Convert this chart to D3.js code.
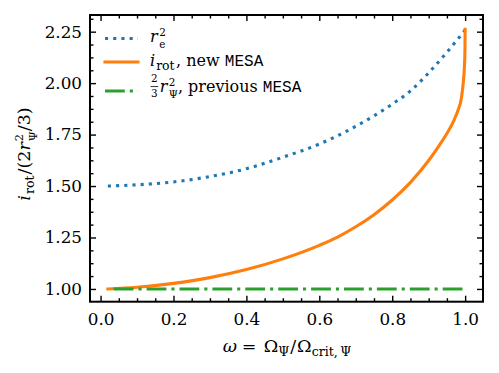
<!DOCTYPE html>
<html><head><meta charset="utf-8">
<script src="https://cdn.jsdelivr.net/npm/d3@7"></script>
<style>body{margin:0;background:#fff}svg{display:block}text{white-space:pre}</style>
</head><body>
<svg id="c" width="499" height="373"></svg>
<script>
// ---- data ----
const omegaRe = [0.02, 0.1, 0.2, 0.3, 0.4, 0.5, 0.6, 0.7, 0.8, 0.85, 0.9, 0.95, 0.98, 1.0];
const reSq    = [1.500, 1.506, 1.520, 1.546, 1.584, 1.640, 1.704, 1.790, 1.898, 1.962, 2.050, 2.150, 2.214, 2.258];
const omegaIrot = [0.02, 0.1, 0.2, 0.3, 0.4, 0.5, 0.6, 0.65, 0.7, 0.75, 0.8, 0.85, 0.9, 0.93, 0.95, 0.97, 0.98, 0.99, 0.995, 0.998, 0.9995, 1.0];
const iRot      = [1.000, 1.008, 1.027, 1.055, 1.094, 1.146, 1.212, 1.252, 1.302, 1.361, 1.432, 1.518, 1.624, 1.700, 1.755, 1.822, 1.866, 1.930, 2.005, 2.080, 2.160, 2.262];
const omegaPrev = [0.036, 1.0];
const prevVal   = [1.0, 1.0];
const xTicks = [0.0, 0.2, 0.4, 0.6, 0.8, 1.0];
const yTicks = [1.00, 1.25, 1.50, 1.75, 2.00, 2.25];
const colors = ["#1f77b4", "#ff7f0e", "#2ca02c"];

const serif = "'DejaVu Serif', 'Liberation Serif', serif";
const mono = "'Liberation Mono', 'DejaVu Sans Mono', monospace";
const NB = "\u00a0";

const svg = d3.select("#c");
svg.append("rect").attr("width", 499).attr("height", 373).attr("fill", "#fff");
const L = 90, R = 483, T = 15, B = 301.7;
const x = d3.scaleLinear().domain([-0.029, 1.049]).range([L, R]);
const y = d3.scaleLinear().domain([0.938, 2.331]).range([B, T]);

const line = d3.line().x(d => x(d[0])).y(d => y(d[1])).curve(d3.curveMonotoneX);
const plot = svg.append("g");
plot.append("path").datum(d3.zip(omegaRe, reSq)).attr("d", line)
  .attr("fill", "none").attr("stroke", colors[0]).attr("stroke-width", 3.1)
  .attr("stroke-dasharray", "3.1,5.1");
plot.append("path").datum(d3.zip(omegaIrot, iRot)).attr("d", line)
  .attr("fill", "none").attr("stroke", colors[1]).attr("stroke-width", 3.1)
  .attr("stroke-linecap", "square").attr("stroke-linejoin", "round");
plot.append("path").datum(d3.zip(omegaPrev, prevVal)).attr("d", line)
  .attr("fill", "none").attr("stroke", colors[2]).attr("stroke-width", 3.1)
  .attr("stroke-dasharray", "19.8,5,3.1,5");

// ---- axes (ticks inward on all sides) ----
function minor(ticks, step) {
  const out = [];
  for (let i = 0; i < ticks.length - 1; i++) for (let k = 1; k < 4; k++) out.push(ticks[i] + k * step / 4);
  return out;
}
const xMinor = minor([-0.2].concat(xTicks, [1.2]), 0.2).filter(v => v > -0.029 && v < 1.049);
const yMinor = minor([0.75].concat(yTicks, [2.5]), 0.25).filter(v => v > 0.938 && v < 2.331);

function styleAxis(g) {
  g.attr("font-family", serif);
  g.select(".domain").remove();
  g.selectAll(".tick line").attr("stroke", "#000").attr("stroke-width", 1.4);
}
const fs = 16.8;
const gx = svg.append("g").attr("transform", `translate(0,${B})`)
  .call(d3.axisBottom(x).tickValues(xTicks).tickFormat(d3.format(".1f")).tickSize(-6).tickPadding(11));
styleAxis(gx);
gx.selectAll("text").attr("font-family", serif).attr("font-size", fs).attr("fill", "#000");
const gxm = svg.append("g").attr("transform", `translate(0,${B})`)
  .call(d3.axisBottom(x).tickValues(xMinor).tickFormat("").tickSize(-3.5));
styleAxis(gxm);
const gxt = svg.append("g").attr("transform", `translate(0,${T})`)
  .call(d3.axisTop(x).tickValues(xTicks).tickFormat("").tickSize(-6));
styleAxis(gxt);
const gxtm = svg.append("g").attr("transform", `translate(0,${T})`)
  .call(d3.axisTop(x).tickValues(xMinor).tickFormat("").tickSize(-3.5));
styleAxis(gxtm);

const gy = svg.append("g").attr("transform", `translate(${L},0)`)
  .call(d3.axisLeft(y).tickValues(yTicks).tickFormat(d3.format(".2f")).tickSize(-6).tickPadding(8));
styleAxis(gy);
gy.selectAll("text").attr("font-family", serif).attr("font-size", fs).attr("fill", "#000");
const gym = svg.append("g").attr("transform", `translate(${L},0)`)
  .call(d3.axisLeft(y).tickValues(yMinor).tickFormat("").tickSize(-3.5));
styleAxis(gym);
const gyr = svg.append("g").attr("transform", `translate(${R},0)`)
  .call(d3.axisRight(y).tickValues(yTicks).tickFormat("").tickSize(-6));
styleAxis(gyr);
const gyrm = svg.append("g").attr("transform", `translate(${R},0)`)
  .call(d3.axisRight(y).tickValues(yMinor).tickFormat("").tickSize(-3.5));
styleAxis(gyrm);

svg.append("rect").attr("x", L).attr("y", T).attr("width", R - L).attr("height", B - T)
  .attr("fill", "none").attr("stroke", "#000").attr("stroke-width", 2);

// ---- math text helper ----
function mathText(parent, pieces, size) {
  const g = parent.append("g");
  let cx = 0;
  pieces.forEach(p => {
    if (p.at !== undefined) cx = p.at;
    const s = size * (p.scale || 1);
    if (p.frac) {
      const t = g.append("text").attr("font-family", serif).attr("font-size", s).attr("fill", "#000");
      const a = t.append("tspan").attr("y", -0.62 * size).text(p.frac[0]);
      const b = t.append("tspan").attr("y", 0.32 * size).text(p.frac[1]);
      const wa = a.node().getComputedTextLength(), wb = b.node().getComputedTextLength();
      const w = Math.max(wa, wb);
      a.attr("x", cx + 1 + (w - wa) / 2);
      b.attr("x", cx + 1 + (w - wb) / 2);
      g.append("line").attr("x1", cx + 0.5).attr("x2", cx + w + 1.5).attr("y1", -0.34 * size).attr("y2", -0.34 * size)
        .attr("stroke", "#000").attr("stroke-width", 0.8);
      cx += w + 3;
      return;
    }
    if (p.stack) {
      const t = g.append("text").attr("font-family", serif).attr("font-size", s).attr("fill", "#000");
      const a = t.append("tspan").attr("x", cx).attr("y", -(p.up || 0.4) * size).text(p.stack[0]);
      const b = t.append("tspan").attr("x", cx).attr("y", (p.down || 0.4) * size).text(p.stack[1]);
      cx += Math.max(a.node().getComputedTextLength(), b.node().getComputedTextLength()) + (p.pad || 0);
      return;
    }
    const t = g.append("text").attr("x", cx).attr("y", (p.dy || 0) * size)
      .attr("font-family", p.mono ? mono : serif).attr("font-style", p.it ? "italic" : "normal")
      .attr("font-size", s).attr("fill", "#000").text(p.t);
    cx += t.node().getComputedTextLength() + (p.pad || 0);
  });
  return { g, width: cx };
}

// x label
const xl = mathText(svg, [
  { t: "ω", it: true }, { t: "=", at: 19 }, { t: "Ω", at: 41 }, { t: "Ψ", scale: 0.72, dy: 0.22, pad: 1 },
  { t: "/", pad: 1 }, { t: "Ω" }, { t: "crit,", scale: 0.72, dy: 0.22, pad: 2.5 }, { t: "Ψ", scale: 0.72, dy: 0.22 }
], 17.5);
xl.g.attr("transform", `translate(${287 - xl.width / 2},352)`);

// y label
const yl = mathText(svg, [
  { t: "i", it: true, pad: 1 }, { t: "rot", scale: 0.72, dy: 0.22, pad: 1 }, { t: "/(2" }, { t: "r", it: true, pad: 1 },
  { stack: ["2", "Ψ"], scale: 0.65, up: 0.4, down: 0.4 }, { t: "/3)" }
], 17.5);
yl.g.attr("transform", `translate(30,154) rotate(-90) translate(${-yl.width / 2},0)`);

// ---- legend ----
const legendItems = [
  { dash: "3.1,5.1", cap: "butt", pieces: [{ t: "r", it: true, pad: 1.5 }, { stack: ["2", "e"], scale: 0.65, up: 0.38, down: 0.4 }], yl: 38.5, yt: 42 },
  { dash: null, cap: "square", pieces: [{ t: "i", it: true, pad: 1 }, { t: "rot", scale: 0.78, dy: 0.25, pad: 1.5 }, { t: "," + NB + "new" + NB }, { t: "MESA", mono: true }], yl: 62, yt: 66 },
  { dash: "19.8,5,3.1,5", cap: "butt", pieces: [{ frac: ["2", "3"], scale: 0.65 }, { t: "r", it: true, pad: 1.5 }, { stack: ["2", "Ψ"], scale: 0.65, up: 0.4, down: 0.4 }, { t: "," + NB + "previous" + NB }, { t: "MESA", mono: true }], yl: 91, yt: 92 }
];
legendItems.forEach((it, i) => {
  svg.append("line").attr("x1", 105).attr("x2", 138)
    .attr("y1", it.yl).attr("y2", it.yl).attr("stroke", colors[i]).attr("stroke-width", 3.1)
    .attr("stroke-dasharray", it.dash).attr("stroke-linecap", it.cap);
  const m = mathText(svg, it.pieces, 16);
  m.g.attr("transform", `translate(150,${it.yt})`);
});
</script>
</body></html>
